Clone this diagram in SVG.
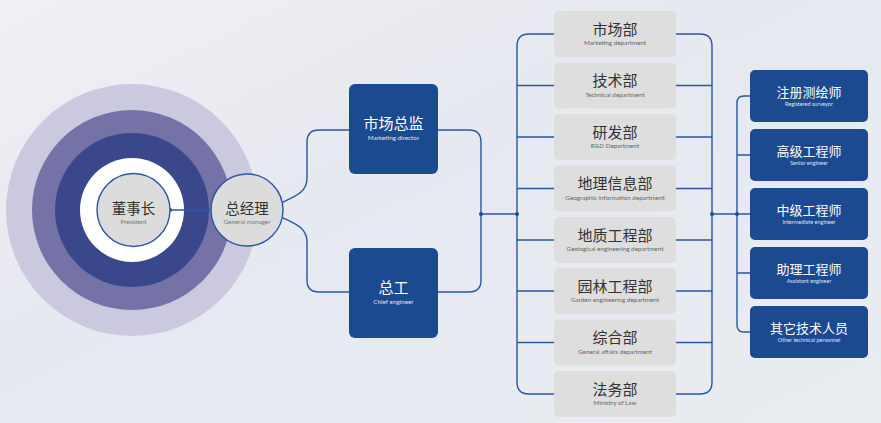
<svg xmlns="http://www.w3.org/2000/svg" width="881" height="423" viewBox="0 0 881 423">
<defs>
<linearGradient id="bg" x1="0" y1="0" x2="1" y2="1">
<stop offset="0" stop-color="#eef0f4"/>
<stop offset="0.4" stop-color="#e6e9ef"/>
<stop offset="1" stop-color="#e9ecf1"/>
</linearGradient>
<style>
.ln{fill:none;stroke:#2b56a3;stroke-width:1.4}
.dot{fill:#1f4a90}
.dept rect{fill:#dedede}
.dt{font-family:"Noto Sans CJK SC",sans-serif;font-size:15px;fill:#333;text-anchor:middle}
.ds{font-family:"Lato","Noto Sans",sans-serif;font-size:6.3px;fill:#666;text-anchor:middle}
.bb{fill:#1b4a90}
.bt{font-family:"Noto Sans CJK SC",sans-serif;fill:#fff;text-anchor:middle}
.bs{font-family:"Lato","Noto Sans",sans-serif;fill:#dfe6f2;text-anchor:middle}
.ct{font-family:"Noto Sans CJK SC",sans-serif;font-size:14.5px;fill:#333;text-anchor:middle}
.cs{font-family:"Lato","Noto Sans",sans-serif;font-size:6.3px;fill:#777;text-anchor:middle}
</style>
</defs>
<rect width="881" height="423" fill="url(#bg)"/>
<g id="rings">
<circle cx="132" cy="210" r="126" fill="#cac9df"/>
<circle cx="132" cy="210" r="100" fill="#7472a7"/>
<circle cx="132" cy="210" r="77" fill="#3a478b"/>
<circle cx="132" cy="210" r="52" fill="#ffffff"/>
</g>
<g id="connectors">
<line class="ln" x1="170" y1="210" x2="211" y2="210"/>
<path class="ln" d="M283,202 C296,196 307,192 307,178 L307,142 Q307,130 319,130 L349,130"/>
<path class="ln" d="M283,218 C296,224 307,228 307,242 L307,280 Q307,292 319,292 L349,292"/>
<path class="ln" d="M438,130 L469,130 Q481,130 481,142 L481,280 Q481,292 469,292 L438,292"/>
<line class="ln" x1="481" y1="214" x2="517" y2="214"/>
<path class="ln" d="M554,34 L529,34 Q517,34 517,46 L517,382 Q517,394 529,394 L554,394"/>
<path class="ln" d="M676,34 L700,34 Q712,34 712,46 L712,382 Q712,394 700,394 L676,394"/>
<path class="ln" d="M517,85.5 H554 M517,137 H554 M517,188.5 H554 M517,240 H554 M517,291 H554 M517,342.5 H554"/>
<path class="ln" d="M676,85.5 H712 M676,137 H712 M676,188.5 H712 M676,240 H712 M676,291 H712 M676,342.5 H712"/>
<line class="ln" x1="712" y1="214" x2="750" y2="214"/>
<path class="ln" d="M750,96 L744,96 Q737,96 737,103 L737,325 Q737,332 744,332 L750,332"/>
<path class="ln" d="M737,155 H750 M737,273 H750"/>
<circle class="dot" cx="170" cy="210" r="2"/>
<circle class="dot" cx="481" cy="214" r="2"/>
<circle class="dot" cx="517" cy="214" r="2"/>
<circle class="dot" cx="712" cy="214" r="2"/>
<circle class="dot" cx="737" cy="214" r="2"/>
</g>
<g id="president">
<circle cx="133.5" cy="210" r="36.5" fill="#dcdcdc" stroke="#2b56a3" stroke-width="1.4"/>
<text class="ct" x="133.5" y="214">董事长</text>
<text class="cs" x="133.5" y="224">President</text>
</g>
<g id="gm">
<circle cx="247" cy="210" r="36" fill="#dcdcdc" stroke="#2b56a3" stroke-width="1.4"/>
<text class="ct" x="247" y="214">总经理</text>
<text class="cs" x="247" y="224">General manager</text>
</g>
<g id="marketing-director">
<rect class="bb" x="349" y="84" width="89" height="90" rx="6"/>
<text class="bt" x="393.5" y="129" font-size="15">市场总监</text>
<text class="bs" x="393.5" y="139.5" font-size="6.3">Marketing director</text>
</g>
<g id="chief-engineer">
<rect class="bb" x="349" y="248" width="89" height="90" rx="6"/>
<text class="bt" x="393.5" y="293" font-size="15">总工</text>
<text class="bs" x="393.5" y="303.5" font-size="6.3">Chief engineer</text>
</g>
<g id="d1" class="dept"><rect x="554" y="11" width="122" height="46" rx="5"/><text class="dt" x="615" y="34.5">市场部</text><text class="ds" x="615" y="45">Marketing department</text></g>
<g id="d2" class="dept"><rect x="554" y="62.5" width="122" height="46" rx="5"/><text class="dt" x="615" y="86">技术部</text><text class="ds" x="615" y="96.5">Technical department</text></g>
<g id="d3" class="dept"><rect x="554" y="114" width="122" height="46" rx="5"/><text class="dt" x="615" y="137.5">研发部</text><text class="ds" x="615" y="148">R&amp;D Department</text></g>
<g id="d4" class="dept"><rect x="554" y="165.5" width="122" height="46" rx="5"/><text class="dt" x="615" y="189">地理信息部</text><text class="ds" x="615" y="199.5">Geographic information department</text></g>
<g id="d5" class="dept"><rect x="554" y="217" width="122" height="46" rx="5"/><text class="dt" x="615" y="240.5">地质工程部</text><text class="ds" x="615" y="251">Geological engineering department</text></g>
<g id="d6" class="dept"><rect x="554" y="268" width="122" height="46" rx="5"/><text class="dt" x="615" y="291.5">园林工程部</text><text class="ds" x="615" y="302">Garden engineering department</text></g>
<g id="d7" class="dept"><rect x="554" y="319.5" width="122" height="46" rx="5"/><text class="dt" x="615" y="343">综合部</text><text class="ds" x="615" y="353.5">General affairs department</text></g>
<g id="d8" class="dept"><rect x="554" y="371" width="122" height="46" rx="5"/><text class="dt" x="615" y="394.5">法务部</text><text class="ds" x="615" y="405">Ministry of Law</text></g>
<g id="r1"><rect class="bb" x="750" y="70" width="118" height="52" rx="5"/><text class="bt" x="809" y="97" font-size="13">注册测绘师</text><text class="bs" x="809" y="106" font-size="5.5">Registered surveyor</text></g>
<g id="r2"><rect class="bb" x="750" y="129" width="118" height="52" rx="5"/><text class="bt" x="809" y="156" font-size="13">高级工程师</text><text class="bs" x="809" y="165" font-size="5.5">Senior engineer</text></g>
<g id="r3"><rect class="bb" x="750" y="188" width="118" height="52" rx="5"/><text class="bt" x="809" y="215" font-size="13">中级工程师</text><text class="bs" x="809" y="224" font-size="5.5">Intermediate engineer</text></g>
<g id="r4"><rect class="bb" x="750" y="247" width="118" height="52" rx="5"/><text class="bt" x="809" y="274" font-size="13">助理工程师</text><text class="bs" x="809" y="283" font-size="5.5">Assistant engineer</text></g>
<g id="r5"><rect class="bb" x="750" y="306" width="118" height="52" rx="5"/><text class="bt" x="809" y="333" font-size="13">其它技术人员</text><text class="bs" x="809" y="342" font-size="5.5">Other technical personnel</text></g>
</svg>
